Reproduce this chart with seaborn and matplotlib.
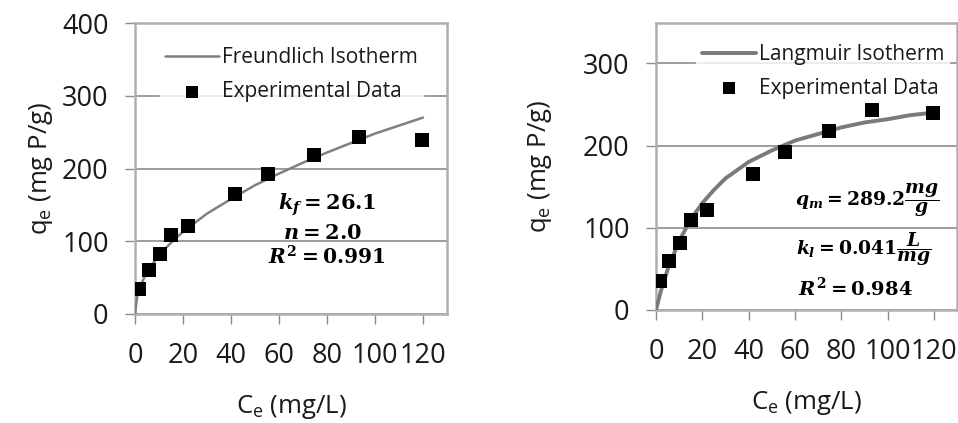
import matplotlib
matplotlib.use("Agg")
import matplotlib.pyplot as plt
import seaborn as sns
import pandas as pd

ce_exp = [1.8, 5.8, 10.5, 15.0, 22.0, 41.7, 55.5, 74.6, 93.3, 119.6]
qe_exp = [35, 60, 82, 109, 121, 165, 192, 218, 243, 239]

# Freundlich fitted curve
ce_fr = [0, 1, 2, 5, 10, 15, 20, 30, 40, 50, 60, 70, 80, 90, 100, 110, 120]
qe_fr = [0, 26, 37, 58, 81, 98, 113, 138, 158, 177, 193, 208, 222, 235, 248, 259, 270]

# Langmuir fitted curve
ce_la = [0, 2, 5, 10, 15, 20, 25, 30, 35, 40, 50, 60, 70, 80, 90, 100, 110, 120]
qe_la = [0, 22, 49, 84, 110, 130, 146, 160, 170, 180, 194, 206, 214, 222, 228, 232, 237, 240]

x_ticks = [0, 20, 40, 60, 80, 100, 120]
y_ticks_left = [0, 100, 200, 300, 400]
y_ticks_right = [0, 100, 200, 300]

sns.set_style("white")
plt.rcParams["font.family"] = ["Open Sans", "DejaVu Sans"]
plt.rcParams["mathtext.fontset"] = "custom"
plt.rcParams["mathtext.it"] = "DejaVu Serif:italic:bold"
plt.rcParams["mathtext.rm"] = "DejaVu Serif:bold"
plt.rcParams["mathtext.bf"] = "DejaVu Serif:bold"

fig = plt.figure(figsize=(9.58, 4.23), dpi=100)
axL = fig.add_axes([135/958, 1-314/423, (447-135)/958, (314-23)/423])
axR = fig.add_axes([656/958, 1-310/423, (957-656)/958, (310-23)/423])

exp_df = pd.DataFrame({"Ce": ce_exp, "qe": qe_exp})
fr_df = pd.DataFrame({"Ce": ce_fr, "qe": qe_fr})
la_df = pd.DataFrame({"Ce": ce_la, "qe": qe_la})

GRID = "#8c8c8c"
SPINE = "#b0b0b0"
TXT = "#1a1a1a"
TFS = 19.5
AFS = 18.5
LFS = 15

def style(ax, yticks, ylim):
    ax.set_xlim(0, 130)
    ax.set_ylim(*ylim)
    ax.set_xticks(x_ticks)
    ax.set_yticks(yticks)
    ax.yaxis.grid(True, color=GRID, linewidth=1.2)
    ax.xaxis.grid(False)
    ax.set_axisbelow(True)
    for s in ax.spines.values():
        s.set_color(SPINE)
        s.set_linewidth(1.8)
    ax.tick_params(axis="both", direction="out", length=7, width=1.0, color=GRID,
                   labelsize=TFS, labelcolor=TXT, left=True, bottom=True)
    ax.tick_params(axis="y", pad=12)
    ax.tick_params(axis="x", pad=13)

def legend(ax, loc, anchor):
    lg = ax.legend(loc=loc, bbox_to_anchor=anchor, frameon=True, fontsize=LFS,
                   handlelength=2.6, handletextpad=0.15, labelspacing=0.62,
                   borderaxespad=0, borderpad=0.25, markerscale=0.85)
    lg.get_frame().set_facecolor("white")
    lg.get_frame().set_edgecolor("white")
    lg.get_frame().set_boxstyle("square", pad=0)
    lg.set_zorder(3.5)
    for t in lg.get_texts():
        t.set_color(TXT)
    return lg

# Left: Freundlich
sns.lineplot(data=fr_df, x="Ce", y="qe", ax=axL, color="#808080", linewidth=1.8,
             label="Freundlich Isotherm", zorder=3)
sns.scatterplot(data=exp_df, x="Ce", y="qe", ax=axL, marker="s", s=95, color="black",
                edgecolor="black", linewidth=0, label="Experimental Data", zorder=6)
style(axL, y_ticks_left, (0, 400))
axL.set_xlabel("C$_\\mathregular{e}$ (mg/L)", fontsize=AFS, color=TXT, labelpad=17)
axL.set_ylabel("q$_\\mathregular{e}$ (mg P/g)", fontsize=AFS, color=TXT, labelpad=5)
legend(axL, "upper left", (0.08, 0.935))
axL.text(80, 150, "$k_f = 26.1$", ha="center", va="center", fontsize=15, color="black")
axL.text(78, 111, "$n = 2.0$", ha="center", va="center", fontsize=15, color="black")
axL.text(80, 77, "$R^2 = 0.991$", ha="center", va="center", fontsize=14.5, color="black")

# Right: Langmuir
sns.lineplot(data=la_df, x="Ce", y="qe", ax=axR, color="#7a7a7a", linewidth=2.8,
             label="Langmuir Isotherm", zorder=3)
sns.scatterplot(data=exp_df, x="Ce", y="qe", ax=axR, marker="s", s=95, color="black",
                edgecolor="black", linewidth=0, label="Experimental Data", zorder=6)
style(axR, y_ticks_right, (0, 349))
axR.set_xlabel("C$_\\mathregular{e}$ (mg/L)", fontsize=AFS, color=TXT, labelpad=17)
axR.set_ylabel("q$_\\mathregular{e}$ (mg P/g)", fontsize=AFS, color=TXT, labelpad=21)
legend(axR, "upper right", (0.975, 0.945))
axR.text(91, 134, "$q_m = 289.2\\dfrac{mg}{g}$", ha="center", va="center", fontsize=13.5, color="black")
axR.text(90, 74, "$k_l = 0.041\\dfrac{L}{mg}$", ha="center", va="center", fontsize=13.5, color="black")
axR.text(86, 27, "$R^2 = 0.984$", ha="center", va="center", fontsize=14, color="black")

fig.savefig("out.png", dpi=100)
